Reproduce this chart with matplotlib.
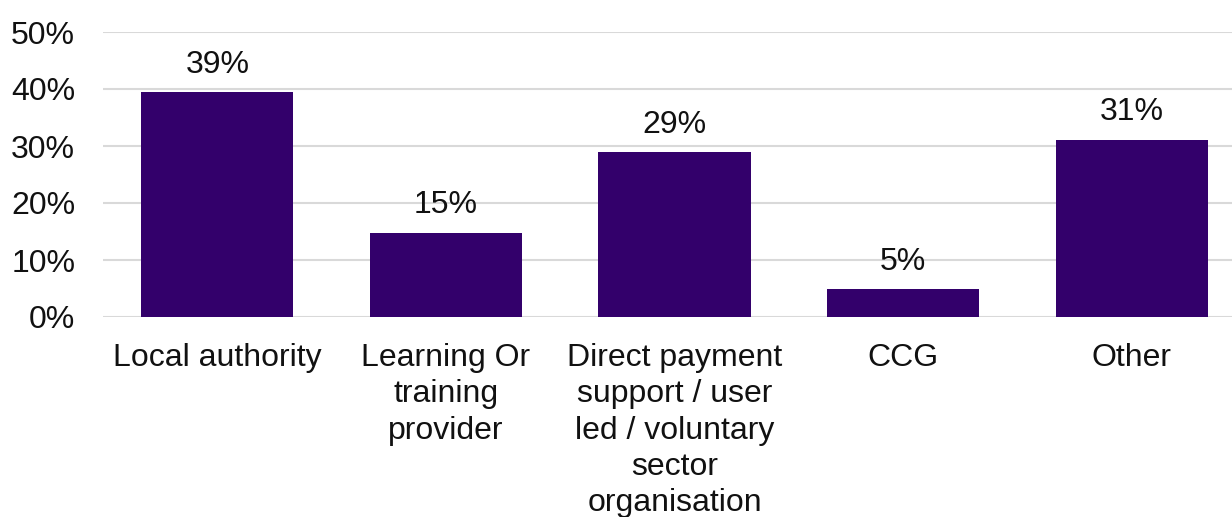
import matplotlib
matplotlib.use('Agg')
import matplotlib.pyplot as plt
from matplotlib.ticker import PercentFormatter

categories = ['Local authority', 'Learning Or\ntraining\nprovider',
              'Direct payment\nsupport / user\nled / voluntary\nsector\norganisation',
              'CCG', 'Other']
values = [39.4, 14.8, 28.9, 4.9, 31.1]
yticks = [0, 10, 20, 30, 40, 50]

plt.rcParams['font.family'] = ['Liberation Sans', 'DejaVu Sans']

fig = plt.figure(figsize=(12.32, 5.17), dpi=100)
ax = fig.add_axes([103 / 1232, 200 / 517, 1143 / 1232, 285 / 517])

x = range(len(categories))
ax.bar(x, values, width=0.665, color='#33006b', zorder=2)

for xi, v in zip(x, values):
    ax.annotate('%.0f%%' % v, (xi, v), xytext=(0, 9), textcoords='offset points',
                ha='center', va='bottom', fontsize=23, color='#111111')

ax.set_xlim(-0.5, len(categories) - 0.5)
ax.set_ylim(0, 50)
ax.set_yticks(yticks)
ax.yaxis.set_major_formatter(PercentFormatter(decimals=0))
ax.set_xticks(list(x))
ax.set_xticklabels(categories, linespacing=1.28)
ax.tick_params(axis='both', length=0, labelsize=23, colors='#111111')
ax.tick_params(axis='x', pad=18.5)
ax.tick_params(axis='y', pad=20)
ax.grid(axis='y', color='#d9d9d9', linewidth=1.5, zorder=0)
for s in ax.spines.values():
    s.set_visible(False)

fig.savefig('out.png', dpi=100)
